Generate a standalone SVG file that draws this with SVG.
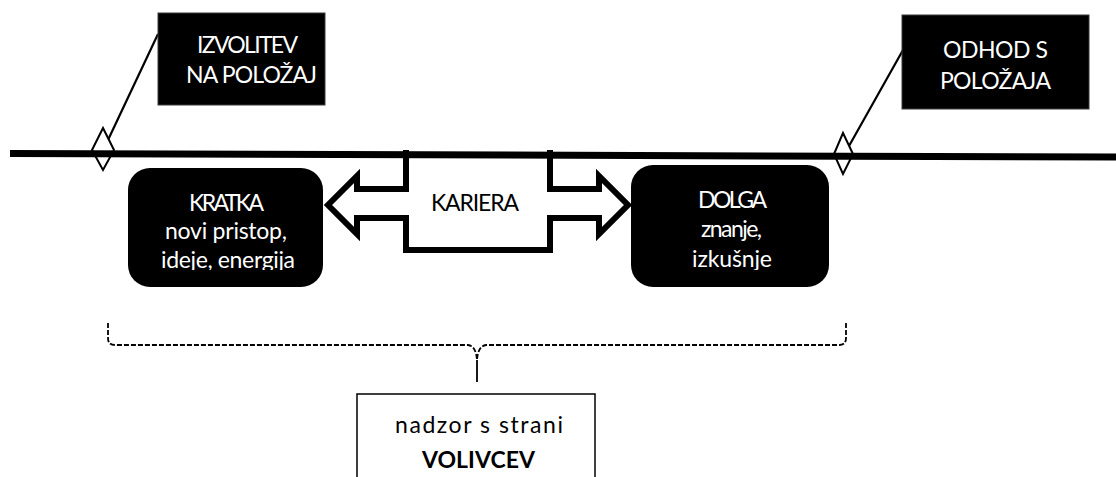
<svg xmlns="http://www.w3.org/2000/svg" width="1116" height="477" viewBox="0 0 1116 477">
<style>
.lbl{font-family:Lato,"Liberation Sans",Arial,sans-serif;font-size:23px;fill:#fff}
.dk{font-family:Lato,"Liberation Sans",Arial,sans-serif;font-size:23px;fill:#000}
.blk{fill:#000;stroke:#3a3a3a;stroke-width:1}
.lead{stroke:#000;stroke-width:2.2;fill:none}
.dia{fill:#fff;stroke:#000;stroke-width:2}
.brace{fill:none;stroke:#000;stroke-width:1.8;stroke-dasharray:5 2}
</style>
<defs>
<clipPath id="clipL"><rect x="120" y="160" width="220" height="110"/></clipPath>
<clipPath id="clipR"><rect x="620" y="160" width="220" height="110"/></clipPath>
</defs>
<g id="connectors">
<line class="lead" x1="158" y1="34" x2="108" y2="140"/>
<line class="lead" x1="903" y1="50" x2="849" y2="146"/>
<path class="brace" d="M108,323 L108,338 Q108,345 115,345 L468,345 Q476,346 477,360 Q478,346 486,345 L839,345 Q846,345 846,338 L846,323"/>
<line x1="477" y1="360" x2="477" y2="382" stroke="#000" stroke-width="1.8"/>
</g>
<g id="diamond-left"><polygon class="dia" points="103,128 114,150 103,170 92,150"/></g>
<g id="diamond-right"><polygon class="dia" points="843,133 853,154 843,174 834,154"/></g>
<g id="kariera">
<path d="M406,150 L406,189 L357,189 L357,176 L328,205 L357,234 L357,218 L406,218 L406,250 L550,250 L550,218 L599,218 L599,234 L628,205 L599,176 L599,189 L550,189 L550,150" fill="#fff" stroke="#000" stroke-width="6" stroke-linejoin="miter"/>
<text class="dk" x="431" y="211" textLength="88">KARIERA</text>
</g>
<g id="timeline">
<line x1="10" y1="153.5" x2="1116" y2="157" stroke="#000" stroke-width="7"/>
</g>
<g id="izvolitev">
<rect class="blk" x="158" y="13" width="167" height="92"/>
<text class="lbl" x="197" y="53" textLength="101">IZVOLITEV</text>
<text class="lbl" x="186" y="83" textLength="131">NA POLOŽAJ</text>
</g>
<g id="odhod">
<rect class="blk" x="902" y="15" width="187" height="94"/>
<text class="lbl" x="943" y="58" textLength="105">ODHOD S</text>
<text class="lbl" x="940" y="89" textLength="111">POLOŽAJA</text>
</g>
<g id="kratka">
<rect x="128" y="168" width="195" height="119" rx="22" ry="22" fill="#000"/>
<text class="lbl" x="189" y="211" textLength="75">KRATKA</text>
<text class="lbl" x="165" y="239" textLength="122">novi pristop,</text>
<text class="lbl" x="161" y="268" textLength="134" clip-path="url(#clipL)">ideje, energija</text>
</g>
<g id="dolga">
<rect x="631" y="165" width="198" height="122" rx="22" ry="22" fill="#000"/>
<text class="lbl" x="698" y="208" textLength="69">DOLGA</text>
<text class="lbl" x="701" y="237" textLength="61">znanje,</text>
<text class="lbl" x="692" y="267" textLength="80" clip-path="url(#clipR)">izkušnje</text>
</g>
<g id="nadzor">
<rect x="357" y="394" width="238" height="100" fill="#fff" stroke="#000" stroke-width="1.5"/>
<text class="dk" x="395" y="433" textLength="168">nadzor s strani</text>
<text class="dk" x="422" y="468" textLength="113" font-weight="bold">VOLIVCEV</text>
</g>
</svg>
